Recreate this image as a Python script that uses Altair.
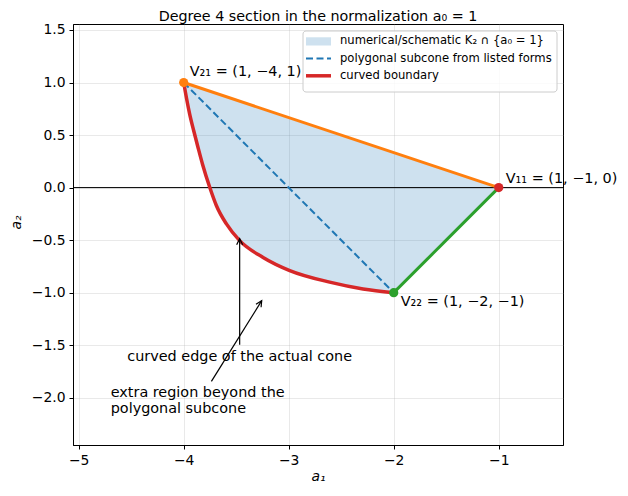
import altair as alt
import pandas as pd

# ---------------- data ----------------
curve_a1 = [-4.0, -3.975, -3.943, -3.905, -3.864, -3.82, -3.752, -3.689, -3.593, -3.467,
            -3.244, -2.99, -2.61, -2.292, -2.0]
curve_a2 = [1.0, 0.86, 0.70, 0.543, 0.384, 0.22, 0.003, -0.17, -0.346, -0.505,
            -0.665, -0.79, -0.90, -0.965, -1.0]

vertex_names = ["V21", "V11", "V22"]
vertex_a1 = [-4.0, -1.0, -2.0]
vertex_a2 = [1.0, 0.0, -1.0]
vertex_labels = ["V₂₁ = (1, −4, 1)", "V₁₁ = (1, −1, 0)", "V₂₂ = (1, −2, −1)"]

x_ticks = [-5, -4, -3, -2, -1]
y_ticks = [-2.0, -1.5, -1.0, -0.5, 0.0, 0.5, 1.0, 1.5]

annot_texts = ["curved edge of the actual cone", "extra region beyond the\npolygonal subcone"]
annot_text_a1 = [-3.467, -4.695]
annot_text_a2 = [-1.61, -1.952]
arrow_tail_a1 = [-3.467, -3.736]
arrow_tail_a2 = [-1.495, -1.845]
arrow_head_a1 = [-3.467, -3.257]
arrow_head_a2 = [-0.486, -1.076]

legend_labels = ["numerical/schematic K₂ ∩ {a₀ = 1}", "polygonal subcone from listed forms", "curved boundary"]
title_text = "Degree 4 section in the normalization a₀ = 1"

# ---------------- styling ----------------
FONT = "DejaVu Sans"
C_BLUE = "#1f77b4"
C_ORANGE = "#ff7f0e"
C_GREEN = "#2ca02c"
C_RED = "#d62728"
vertex_colors = [C_ORANGE, C_RED, C_GREEN]
FS = 14.4

xscale = alt.Scale(domain=[-5.054, -0.388], nice=False, zero=False)
yscale = alt.Scale(domain=[-2.45, 1.557], nice=False, zero=False)

minus_fmt_x = "replace(format(datum.value, 'd'), '-', '−')"
minus_fmt_y = "replace(format(datum.value, '.1f'), '-', '−')"

X = alt.X("a1:Q", scale=xscale, title="a₁",
          axis=alt.Axis(values=x_ticks, labelExpr=minus_fmt_x))
Y = alt.Y("a2:Q", scale=yscale, title="a₂",
          axis=alt.Axis(values=y_ticks, labelExpr=minus_fmt_y, titleY=198))

# polygon fill: V21 -> V11 -> V22 -> curve back to V21
poly_a1 = [vertex_a1[0], vertex_a1[1]] + curve_a1[::-1]
poly_a2 = [vertex_a2[0], vertex_a2[1]] + curve_a2[::-1]
poly_df = pd.DataFrame({"a1": poly_a1, "a2": poly_a2, "i": list(range(len(poly_a1)))})

fill = alt.Chart(poly_df).mark_line(
    fill=C_BLUE, fillOpacity=0.22, strokeOpacity=0, strokeWidth=0, interpolate="linear"
).encode(x=X, y=Y, order=alt.Order("i:Q"))

zero_df = pd.DataFrame({"a2": [0.0]})
hline = alt.Chart(zero_df).mark_rule(color="black", strokeWidth=1).encode(y=Y)

def seg(i, j):
    return pd.DataFrame({"a1": [vertex_a1[i], vertex_a1[j]], "a2": [vertex_a2[i], vertex_a2[j]], "i": [0, 1]})

dashed = alt.Chart(seg(0, 2)).mark_line(
    color=C_BLUE, strokeWidth=2, strokeDash=[7, 3.5]
).encode(x=X, y=Y, order="i:Q")

orange = alt.Chart(seg(0, 1)).mark_line(color=C_ORANGE, strokeWidth=3).encode(x=X, y=Y, order="i:Q")
green = alt.Chart(seg(1, 2)).mark_line(color=C_GREEN, strokeWidth=3).encode(x=X, y=Y, order="i:Q")

curve_df = pd.DataFrame({"a1": curve_a1, "a2": curve_a2, "i": list(range(len(curve_a1)))})
curve = alt.Chart(curve_df).mark_line(
    color=C_RED, strokeWidth=3.5, interpolate="monotone"
).encode(x=X, y=Y, order="i:Q")

vert_df = pd.DataFrame({"a1": vertex_a1, "a2": vertex_a2, "name": vertex_names, "label": vertex_labels})
points = alt.Chart(vert_df).mark_point(filled=True, size=85, opacity=1).encode(
    x=X, y=Y,
    color=alt.Color("name:N", scale=alt.Scale(domain=vertex_names, range=vertex_colors), legend=None),
)

label_offsets = [(6, -7), (7, -5), (7, 13)]
labels = []
for k, (dx, dy) in enumerate(label_offsets):
    labels.append(
        alt.Chart(vert_df.iloc[[k]]).mark_text(
            align="left", baseline="alphabetic", dx=dx, dy=dy,
            font=FONT, fontSize=FS, color="black"
        ).encode(x=X, y=Y, text="label:N")
    )

# annotations
arrow_df = pd.DataFrame({
    "a1": arrow_tail_a1, "a2": arrow_tail_a2,
    "a1_h": arrow_head_a1, "a2_h": arrow_head_a2,
})
shafts = alt.Chart(arrow_df).mark_rule(color="black", strokeWidth=1.2).encode(
    x=X, y=Y, x2="a1_h:Q", y2="a2_h:Q"
)
heads = []
for k, ang in enumerate([0, 32]):
    hd = pd.DataFrame({"a1": [arrow_head_a1[k]], "a2": [arrow_head_a2[k]]})
    heads.append(
        alt.Chart(hd).mark_point(
            shape="M-0.5,1L0,0L0.5,1", filled=False, size=144,
            stroke="black", strokeWidth=1.2, angle=ang, opacity=1
        ).encode(x=X, y=Y)
    )

t1 = alt.Chart(pd.DataFrame({"a1": [annot_text_a1[0]], "a2": [annot_text_a2[0]], "t": [annot_texts[0]]})).mark_text(
    align="center", baseline="middle", font=FONT, fontSize=FS, color="black"
).encode(x=X, y=Y, text="t:N")
t2 = alt.Chart(pd.DataFrame({"a1": [annot_text_a1[1]], "a2": [annot_text_a2[1]], "t": [annot_texts[1]]})).mark_text(
    align="left", baseline="middle", font=FONT, fontSize=FS, color="black",
    lineBreak="\n", lineHeight=16.7
).encode(x=X, y=Y, text="t:N")

# manual legend (pixel positions inside plot area)
one = pd.DataFrame({"d": [0]})
leg_box = alt.Chart(one).mark_rect(
    fill="white", fillOpacity=0.8, stroke="#cccccc", strokeWidth=1, cornerRadius=3
).encode(x=alt.value(230), x2=alt.value(484), y=alt.value(7), y2=alt.value(68))
leg_patch = alt.Chart(one).mark_rect(fill=C_BLUE, fillOpacity=0.22).encode(
    x=alt.value(233), x2=alt.value(258), y=alt.value(13.3), y2=alt.value(21.5))
leg_dash = alt.Chart(one).mark_rule(color=C_BLUE, strokeWidth=2, strokeDash=[7, 3.5]).encode(
    x=alt.value(233), x2=alt.value(258), y=alt.value(34.6))
leg_red = alt.Chart(one).mark_rule(color=C_RED, strokeWidth=3.5).encode(
    x=alt.value(233), x2=alt.value(258), y=alt.value(51.8))
leg_texts = []
for k, yy in enumerate([17.4, 34.6, 51.8]):
    leg_texts.append(
        alt.Chart(pd.DataFrame({"t": [legend_labels[k]]})).mark_text(
            align="left", baseline="middle", font=FONT, fontSize=11.6, color="black"
        ).encode(x=alt.value(267), y=alt.value(yy), text="t:N")
    )

# title drawn as a text mark so it sits fully inside the page
title = alt.Chart(pd.DataFrame({"t": [title_text]})).mark_text(
    align="center", baseline="alphabetic", font=FONT, fontSize=14.3, color="black"
).encode(x=alt.value(245), y=alt.value(-3.5), text="t:N")

chart = alt.layer(
    fill, hline, dashed, orange, green, curve, points, *labels,
    shafts, *heads, t1, t2,
    leg_box, leg_patch, leg_dash, leg_red, *leg_texts, title
).properties(
    width=490, height=421,
    padding={"left": 65, "top": 16, "right": 57, "bottom": 43},
    autosize=alt.AutoSizeParams(type="none"),
).configure_view(
    stroke="black", strokeWidth=1
).configure_axis(
    labelFont=FONT, labelFontSize=13.9, labelColor="black",
    titleFont=FONT, titleFontSize=13.9, titleFontStyle="italic", titleFontWeight="normal", titleColor="black",
    domainColor="black", domainWidth=1,
    tickColor="black", tickSize=4, tickWidth=1,
    gridColor="#b0b0b0", gridOpacity=0.35, gridWidth=0.8,
    labelPadding=4,
).configure_axisX(titlePadding=3).configure_axisY(titlePadding=8)

chart.save("out.html", embed_options={"renderer": "svg", "actions": False})
